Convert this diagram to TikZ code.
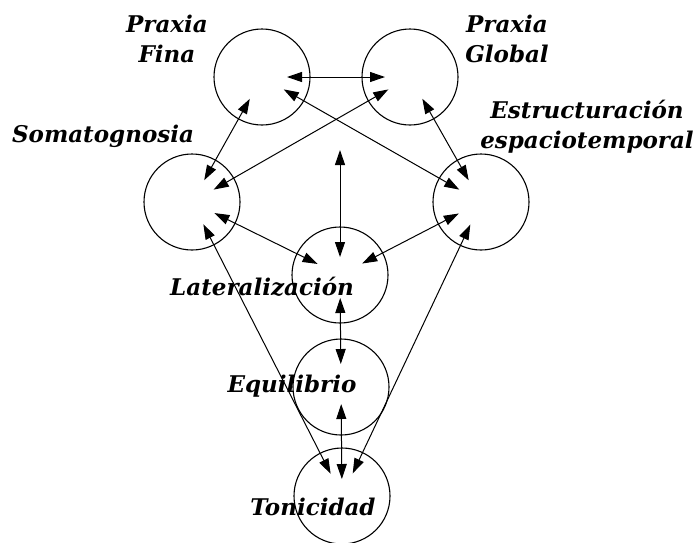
\documentclass[tikz,border=0pt]{standalone}
\usepackage{fontspec}
\setmainfont{DejaVu Serif}
\usetikzlibrary{arrows.meta}

\begin{document}
\begin{tikzpicture}[
  x=1pt, y=-1pt,
  area/.style={draw, circle, minimum size=96pt, inner sep=0pt, line width=1.1pt},
  tag/.style={font=\fontsize{23}{30}\selectfont\bfseries\itshape, align=center, inner sep=0pt},
  link/.style={{Triangle[length=15pt,width=10pt]}-{Triangle[length=15pt,width=10pt]},
    line width=1pt, shorten <=#1, shorten >=#1},
  link/.default=25pt
]
\useasboundingbox (0,0) rectangle (695,542);

% circles
\node[area] (pf) at (262,77) {};
\node[area] (pg) at (410,77) {};
\node[area] (so) at (192,202) {};
\node[area] (es) at (481,202) {};
\node[area] (la) at (340,275) {};
\node[area] (eq) at (341,387) {};
\node[area] (to) at (342,496) {};
\coordinate (mid) at (340,150);

% labels
\node[tag] (tpf) at (167,39) {Praxia\\Fina};
\node[tag] (tpg) at (507,39) {Praxia\\Global};
\node[tag,anchor=base] (tso) at (103,142) {Somatognosia};
\node[tag] (tes) at (587,127) {Estructuración\\espaciotemporal};
\node[tag,anchor=base] (tla) at (262,295) {Lateralización};
\node[tag,anchor=base] (teq) at (292,392) {Equilibrio};
\node[tag,anchor=base] (tto) at (313,515) {Tonicidad};

\path (pf.center) edge[link] (pg.center)
(pf.center) edge[link] (so.center)
(pg.center) edge[link] (so.center)
(pf.center) edge[link] (es.center)
(pg.center) edge[link] (es.center)
(so.center) edge[link] (la.center)
(es.center) edge[link] (la.center)
(so.center) edge[link] (to.center)
(es.center) edge[link] (to.center)
(la.center) edge[link=23pt] (eq.center)
(eq.center) edge[link=17pt] (to.center)
(mid) edge[link=0pt, shorten >=18pt] (la.center)
;

\end{tikzpicture}
\end{document}
